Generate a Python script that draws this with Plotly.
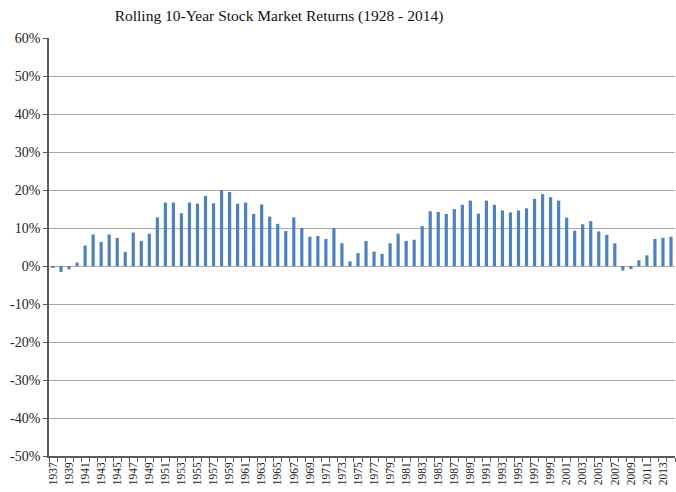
import plotly.graph_objects as go

years = list(range(1937, 2015))
returns = [
    -0.3, -1.6, -0.9, 0.9, 5.4, 8.3, 6.3, 8.3, 7.4, 3.7,
    8.8, 6.6, 8.5, 12.8, 16.7, 16.7, 13.9, 16.7, 16.4, 18.4,
    16.5, 20.0, 19.5, 16.4, 16.7, 13.7, 16.2, 13.0, 11.1, 9.2,
    12.8, 10.0, 7.7, 7.9, 7.1, 10.0, 6.0, 1.2, 3.4, 6.6,
    3.8, 3.2, 6.0, 8.5, 6.6, 6.9, 10.5, 14.4, 14.2, 13.7,
    15.0, 16.1, 17.2, 13.8, 17.2, 16.1, 14.6, 14.1, 14.6, 15.2,
    17.7, 18.9, 18.1, 17.2, 12.7, 9.3, 11.0, 11.8, 9.1, 8.2,
    6.0, -1.2, -0.8, 1.5, 2.8, 7.1, 7.4, 7.7,
]
tick_years = list(range(1937, 2015, 2))
y_ticks = list(range(-50, 61, 10))
y_tick_text = [f"{v}%" for v in y_ticks]

title_text = "Rolling 10-Year Stock Market Returns (1928 - 2014)"
serif = "Liberation Serif, Times New Roman, serif"

fig = go.Figure()
fig.add_trace(go.Bar(
    x=years, y=returns, marker_color="#4f81bd", width=0.4,
    marker_line_width=0,
))

fig.update_layout(
    width=676, height=492,
    margin=dict(l=49, r=1, t=38, b=36),
    paper_bgcolor="white", plot_bgcolor="white",
    showlegend=False,
    title=dict(text=title_text, x=279/676, xanchor="center", xref="container",
               y=1 - 16/492, yanchor="middle", yref="container",
               font=dict(family=serif, size=15.5, color="#111")),
    font=dict(family=serif, color="#222"),
)

fig.update_xaxes(
    range=[1936.5, 2014.5], tickmode="array", tickvals=tick_years,
    ticktext=[str(y) for y in tick_years], tickangle=-90,
    tickfont=dict(family=serif, size=11.5, color="#222"),
    ticks="", showgrid=False, zeroline=False, automargin=False,
    showline=True, linecolor="#5a5a5a", linewidth=1.5,
    minor=dict(ticks="outside", tick0=1936.5, dtick=1, ticklen=4,
               tickcolor="#5a5a5a", showgrid=False),
)
fig.update_yaxes(
    range=[-50, 60], tickmode="array", tickvals=y_ticks, ticktext=y_tick_text,
    tickfont=dict(family=serif, size=14, color="#222"),
    ticks="outside", ticklen=4, tickcolor="#5a5a5a", automargin=False,
    showgrid=True, gridcolor="#a6a6a6", gridwidth=1,
    zeroline=True, zerolinecolor="#a6a6a6", zerolinewidth=1,
    showline=True, linecolor="#5a5a5a", linewidth=1.5,
)

fig.write_html(
    "out.html",
    config={"displayModeBar": False},
    post_script="document.body.style.margin='0';document.body.style.padding='0';",
)
